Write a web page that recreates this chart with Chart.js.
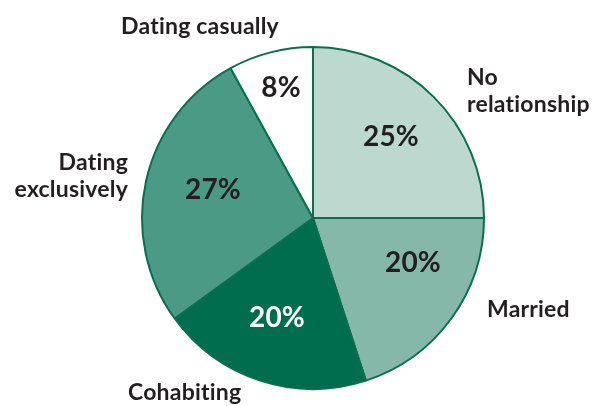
<!DOCTYPE html>
<html>
<head>
<meta charset="utf-8">
<script src="https://cdn.jsdelivr.net/npm/chart.js@4/dist/chart.umd.min.js"></script>
<style>
  html, body { margin: 0; padding: 0; background: #fff; }
  #wrap { width: 598px; height: 406px; position: relative; }
</style>
</head>
<body>
<div id="wrap"><canvas id="pie"></canvas></div>
<script>
const categories = ['No relationship', 'Married', 'Cohabiting', 'Dating exclusively', 'Dating casually'];
const shares = [25, 20, 20, 27, 8];
const sliceColors = ['#bdd9cf', '#85b8a8', '#006e4e', '#4b9a86', '#ffffff'];

// text placement around the pie, offsets from the pie centre
const nameSpots = [
  { lines: ['No', 'relationship'], dx: 154, dy: -140, align: 'left' },
  { lines: ['Married'], dx: 174, dy: 92, align: 'left' },
  { lines: ['Cohabiting'], dx: -185, dy: 175, align: 'left' },
  { lines: ['Dating', 'exclusively'], dx: -185, dy: -55, align: 'right' },
  { lines: ['Dating casually'], dx: -113, dy: -191, align: 'center' }
];
const pctSpots = [
  { dx: 78, dy: -81, color: '#231f20' },
  { dx: 100, dy: 45, color: '#231f20' },
  { dx: -36, dy: 100, color: '#ffffff' },
  { dx: -100, dy: -28, color: '#231f20' },
  { dx: -32, dy: -130, color: '#231f20' }
];

const pieText = {
  id: 'pieText',
  afterDatasetsDraw(chart) {
    const ctx = chart.ctx;
    const arcs = chart.getDatasetMeta(0).data;
    const cx = arcs[0].x, cy = arcs[0].y;
    ctx.save();
    ctx.textBaseline = 'middle';
    ctx.letterSpacing = '0.2px';
    arcs.forEach((arc, i) => {
      const p = pctSpots[i];
      ctx.font = 'bold 28px Lato';
      ctx.fillStyle = p.color;
      ctx.textAlign = 'center';
      ctx.fillText(shares[i] + '%', cx + p.dx, cy + p.dy);

      const n = nameSpots[i];
      ctx.font = 'bold 23px Lato';
      ctx.fillStyle = '#231f20';
      ctx.textAlign = n.align;
      n.lines.forEach((line, k) => {
        ctx.fillText(line, cx + n.dx, cy + n.dy + k * 27);
      });
    });
    ctx.restore();
  }
};

new Chart(document.getElementById('pie'), {
  type: 'pie',
  data: {
    labels: categories,
    datasets: [{
      data: shares,
      backgroundColor: sliceColors,
      borderColor: '#0b6e4e',
      borderWidth: 2
    }]
  },
  options: {
    responsive: true,
    maintainAspectRatio: false,
    animation: false,
    layout: { padding: { top: 46, bottom: 16, left: 141, right: 113 } },
    plugins: {
      legend: { display: false },
      tooltip: { enabled: false }
    }
  },
  plugins: [pieText]
});
</script>
</body>
</html>
